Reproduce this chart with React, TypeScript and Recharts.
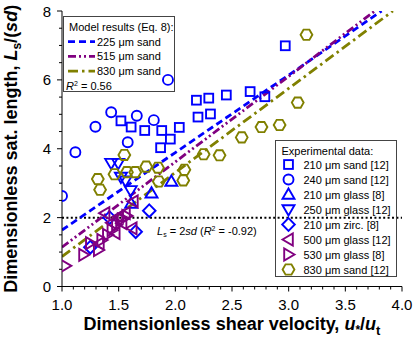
import React from "react";
import { ComposedChart, XAxis, YAxis, Scatter, Line, ReferenceLine } from "recharts";

// ---------- data ----------
const sand210 = [
  { x: 1.52, y: 4.81 }, { x: 1.61, y: 4.63 }, { x: 1.73, y: 4.53 }, { x: 1.88, y: 4.53 },
  { x: 2.035, y: 4.62 }, { x: 1.956, y: 4.28 }, { x: 1.87, y: 4.03 }, { x: 2.186, y: 5.41 },
  { x: 2.2, y: 4.92 }, { x: 2.295, y: 5.47 }, { x: 2.31, y: 5.01 }, { x: 2.45, y: 5.56 },
  { x: 2.66, y: 5.66 }, { x: 2.79, y: 5.51 }, { x: 2.97, y: 6.99 },
];
const sand240 = [
  { x: 1.0, y: 2.63 }, { x: 1.118, y: 3.9 }, { x: 1.295, y: 4.64 }, { x: 1.434, y: 5.06 },
  { x: 1.58, y: 4.19 }, { x: 1.66, y: 4.96 }, { x: 1.81, y: 4.83 }, { x: 1.935, y: 6.0 },
];
const glass210 = [
  { x: 1.61, y: 2.41 }, { x: 1.79, y: 2.71 }, { x: 1.965, y: 3.05 },
];
const glass250 = [
  { x: 1.434, y: 3.58 }, { x: 1.496, y: 3.58 }, { x: 1.52, y: 3.18 }, { x: 1.56, y: 3.07 },
  { x: 1.606, y: 2.79 },
];
const zirc210 = [
  { x: 1.77, y: 2.2 }, { x: 1.42, y: 2.0 }, { x: 1.25, y: 1.14 }, { x: 1.65, y: 1.59 },
];
const glass500 = [
  { x: 1.38, y: 2.13 }, { x: 1.5, y: 2.03 }, { x: 1.56, y: 2.13 }, { x: 1.53, y: 1.84 },
  { x: 1.62, y: 1.69 }, { x: 1.63, y: 2.47 }, { x: 1.44, y: 1.85 }, { x: 1.47, y: 1.55 },
  { x: 1.33, y: 1.25 },
];
const glass530 = [
  { x: 1.03, y: 0.6 }, { x: 1.19, y: 0.92 }, { x: 1.25, y: 1.26 }, { x: 1.32, y: 1.06 },
  { x: 1.35, y: 1.35 }, { x: 1.4, y: 1.5 }, { x: 1.44, y: 1.64 }, { x: 1.48, y: 1.79 },
  { x: 1.53, y: 1.95 }, { x: 1.57, y: 2.05 },
];
const sand830 = [
  { x: 1.55, y: 3.82 }, { x: 1.316, y: 3.12 }, { x: 1.336, y: 2.81 }, { x: 1.463, y: 3.26 },
  { x: 1.573, y: 3.32 }, { x: 1.646, y: 3.32 }, { x: 1.743, y: 3.48 }, { x: 1.847, y: 3.45 },
  { x: 1.854, y: 3.05 }, { x: 2.07, y: 3.08 }, { x: 2.08, y: 3.39 }, { x: 2.25, y: 3.84 },
  { x: 2.39, y: 3.81 }, { x: 2.586, y: 4.33 }, { x: 2.76, y: 4.63 }, { x: 2.92, y: 4.69 },
  { x: 3.08, y: 5.34 }, { x: 3.157, y: 7.31 },
];
const model225 = [{ x: 1.0, y: 1.64 }, { x: 2.0, y: 3.89 }, { x: 3.0, y: 6.14 }, { x: 3.82, y: 8.0 }];
const model515 = [{ x: 1.0, y: 1.14 }, { x: 2.0, y: 3.62 }, { x: 3.0, y: 6.1 }, { x: 3.76, y: 8.0 }];
const model830 = [{ x: 1.0, y: 0.87 }, { x: 2.0, y: 3.31 }, { x: 3.0, y: 5.75 }, { x: 3.92, y: 8.0 }];

const xMajorTicks = [1.0, 1.5, 2.0, 2.5, 3.0, 3.5, 4.0];
const yMajorTicks = [0, 2, 4, 6, 8];
const legendModel = ["225 \u03bcm sand", "515 \u03bcm sand", "830 \u03bcm sand"];
const legendExp = [
  "210 \u03bcm sand [12]", "240 \u03bcm sand [12]", "210 \u03bcm glass [8]", "250 \u03bcm glass [12]",
  "210 \u03bcm zirc. [8]", "500 \u03bcm glass [12]", "530 \u03bcm glass [8]", "830 \u03bcm sand [12]",
];

// ---------- styles ----------
const BLUE = "#0000ff";
const PURPLE = "#800080";
const OLIVE = "#808000";
const FONT = "Arial, 'Liberation Sans', sans-serif";
const DASH225 = "7 4";
const DASH515 = "8 3 2 3 2 3";
const DASH830 = "10 4 2.5 4";

const xTicks: number[] = [];
for (let i = 0; i <= 30; i++) xTicks.push(Math.round((1 + i * 0.1) * 10) / 10);
const yTicks: number[] = [];
for (let i = 0; i <= 16; i++) yTicks.push(i * 0.5);

const isIn = (arr: number[], v: number) => arr.some((a) => Math.abs(a - v) < 1e-6);

type Kind = "square" | "circle" | "up" | "down" | "diamond" | "left" | "right" | "hex";

const Marker = ({ cx, cy, kind, color }: { cx: number; cy: number; kind: Kind; color: string }) => {
  const sw = 1.9;
  const common = { fill: "none", stroke: color, strokeWidth: sw };
  switch (kind) {
    case "square":
      return <rect x={cx - 4.4} y={cy - 4.4} width={8.8} height={8.8} {...common} />;
    case "circle":
      return <circle cx={cx} cy={cy} r={5} {...common} />;
    case "up":
      return <polygon points={`${cx},${cy - 6} ${cx + 6},${cy + 4.3} ${cx - 6},${cy + 4.3}`} {...common} />;
    case "down":
      return <polygon points={`${cx},${cy + 6} ${cx + 6},${cy - 4.3} ${cx - 6},${cy - 4.3}`} {...common} />;
    case "diamond":
      return <polygon points={`${cx},${cy - 6.3} ${cx + 6.3},${cy} ${cx},${cy + 6.3} ${cx - 6.3},${cy}`} {...common} />;
    case "left":
      return <polygon points={`${cx - 6},${cy} ${cx + 4.3},${cy - 6} ${cx + 4.3},${cy + 6}`} {...common} />;
    case "right":
      return <polygon points={`${cx + 6},${cy} ${cx - 4.3},${cy - 6} ${cx - 4.3},${cy + 6}`} {...common} />;
    case "hex": {
      const r = 5.9;
      const h = r * 0.866;
      return (
        <polygon
          points={`${cx + r},${cy} ${cx + r / 2},${cy + h} ${cx - r / 2},${cy + h} ${cx - r},${cy} ${cx - r / 2},${cy - h} ${cx + r / 2},${cy - h}`}
          {...common}
        />
      );
    }
  }
  return null;
};

const shapeOf = (kind: Kind, color: string) => (p: any) =>
  <Marker cx={p.cx} cy={p.cy} kind={kind} color={color} />;

const XTickBottom = (p: any) => {
  const v = p.payload.value;
  const major = isIn(xMajorTicks, v);
  return (
    <g>
      <line x1={p.x} x2={p.x} y1={p.y} y2={p.y + (major ? 5 : 3)} stroke="#000" strokeWidth={1} />
      {major && (
        <text x={p.x} y={p.y + 23.5} textAnchor="middle" fontSize={15} fontFamily={FONT} fill="#000">
          {v.toFixed(1)}
        </text>
      )}
    </g>
  );
};
const XTickTop = (p: any) => {
  const v = p.payload.value;
  const major = isIn(xMajorTicks, v);
  return <line x1={p.x} x2={p.x} y1={p.y} y2={p.y + (major ? 5 : 3)} stroke="#000" strokeWidth={1} />;
};
const YTickLeft = (p: any) => {
  const v = p.payload.value;
  const major = isIn(yMajorTicks, v);
  return (
    <g>
      <line x1={p.x} x2={p.x - (major ? 5 : 3)} y1={p.y} y2={p.y} stroke="#000" strokeWidth={1} />
      {major && (
        <text x={p.x - 11} y={p.y + 5.5} textAnchor="end" fontSize={15} fontFamily={FONT} fill="#000">
          {v}
        </text>
      )}
    </g>
  );
};
const YTickRight = (p: any) => {
  const v = p.payload.value;
  const major = isIn(yMajorTicks, v);
  return <line x1={p.x} x2={p.x - (major ? 5 : 3)} y1={p.y} y2={p.y} stroke="#000" strokeWidth={1} />;
};

const expKinds: { kind: Kind; color: string }[] = [
  { kind: "square", color: BLUE },
  { kind: "circle", color: BLUE },
  { kind: "up", color: BLUE },
  { kind: "down", color: BLUE },
  { kind: "diamond", color: BLUE },
  { kind: "left", color: PURPLE },
  { kind: "right", color: PURPLE },
  { kind: "hex", color: OLIVE },
];
const modelStyles = [
  { color: BLUE, dash: DASH225 },
  { color: PURPLE, dash: DASH515 },
  { color: OLIVE, dash: DASH830 },
];

export default function App() {
  const axisLine = { stroke: "#000", strokeWidth: 1 };
  return (
    <div style={{ position: "absolute", left: 0, top: 0, width: 415, height: 340, background: "#fff" }}>
      <ComposedChart width={415} height={340} margin={{ top: 11, right: 13, bottom: 13.5, left: 0 }}>
        <XAxis
          type="number" dataKey="x" domain={[1, 4]} ticks={xTicks} interval={0} allowDataOverflow
          tick={XTickBottom} tickLine={false} tickSize={0} tickMargin={0} height={40} axisLine={axisLine}
        />
        <XAxis
          xAxisId="top" orientation="top" type="number" dataKey="x" domain={[1, 4]} ticks={xTicks} interval={0}
          allowDataOverflow tick={XTickTop} tickLine={false} tickSize={0} tickMargin={0} height={0} axisLine={axisLine}
        />
        <YAxis
          type="number" dataKey="y" domain={[0, 8]} ticks={yTicks} interval={0} allowDataOverflow
          tick={YTickLeft} tickLine={false} tickSize={0} tickMargin={0} width={62} axisLine={axisLine}
        />
        <YAxis
          yAxisId="right" orientation="right" type="number" dataKey="y" domain={[0, 8]} ticks={yTicks} interval={0}
          allowDataOverflow tick={YTickRight} tickLine={false} tickSize={0} tickMargin={0} width={0} axisLine={axisLine}
        />
        <ReferenceLine y={2} stroke="#000" strokeWidth={2} strokeDasharray="2 2.4" />
        <Scatter data={sand210} shape={shapeOf("square", BLUE)} isAnimationActive={false} />
        <Scatter data={sand240} shape={shapeOf("circle", BLUE)} isAnimationActive={false} />
        <Scatter data={glass210} shape={shapeOf("up", BLUE)} isAnimationActive={false} />
        <Scatter data={glass250} shape={shapeOf("down", BLUE)} isAnimationActive={false} />
        <Scatter data={zirc210} shape={shapeOf("diamond", BLUE)} isAnimationActive={false} />
        <Scatter data={glass500} shape={shapeOf("left", PURPLE)} isAnimationActive={false} />
        <Scatter data={glass530} shape={shapeOf("right", PURPLE)} isAnimationActive={false} />
        <Scatter data={sand830} shape={shapeOf("hex", OLIVE)} isAnimationActive={false} />
        <Line data={model225} dataKey="y" type="linear" stroke={BLUE} strokeWidth={2.8} strokeDasharray={DASH225} dot={false} activeDot={false} isAnimationActive={false} />
        <Line data={model515} dataKey="y" type="linear" stroke={PURPLE} strokeWidth={2.8} strokeDasharray={DASH515} dot={false} activeDot={false} isAnimationActive={false} />
        <Line data={model830} dataKey="y" type="linear" stroke={OLIVE} strokeWidth={2.8} strokeDasharray={DASH830} dot={false} activeDot={false} isAnimationActive={false} />
      </ComposedChart>
      <svg width={415} height={340} style={{ position: "absolute", left: 0, top: 0, pointerEvents: "none" }} fontFamily={FONT}>
        {/* model legend */}
        <rect x={63.5} y={16.5} width={111} height={75} fill="none" stroke="#444" strokeWidth={1} />
        <text x={69} y={31.3} fontSize={11}>Model results (Eq. 8):</text>
        {legendModel.map((t, i) => (
          <g key={t}>
            <line x1={68} x2={95} y1={41.7 + i * 14.7} y2={41.7 + i * 14.7} stroke={modelStyles[i].color} strokeWidth={2.8} strokeDasharray={modelStyles[i].dash} />
            <text x={97} y={45.7 + i * 14.7} fontSize={11}>{t}</text>
          </g>
        ))}
        <text x={66} y={90} fontSize={11}>
          <tspan fontStyle="italic">R</tspan>
          <tspan fontSize={7} dy={-4}>2</tspan>
          <tspan dy={4}> = 0.56</tspan>
        </text>
        {/* experimental legend */}
        <rect x={275.5} y={140.5} width={121} height={136} fill="none" stroke="#444" strokeWidth={1} />
        <text x={281.5} y={154.8} fontSize={11}>Experimental data:</text>
        {legendExp.map((t, i) => (
          <g key={t}>
            <Marker cx={288.5} cy={164.5 + i * 15} kind={expKinds[i].kind} color={expKinds[i].color} />
            <text x={303.5} y={168.5 + i * 15} fontSize={11}>{t}</text>
          </g>
        ))}
        {/* Ls = 2sd label */}
        <text x={157} y={235} fontSize={11}>
          <tspan fontStyle="italic">L</tspan>
          <tspan fontSize={7} dy={2}>s</tspan>
          <tspan dy={-2}> = 2</tspan>
          <tspan fontStyle="italic">sd</tspan>
          <tspan> (</tspan>
          <tspan fontStyle="italic">R</tspan>
          <tspan fontSize={7} dy={-4}>2</tspan>
          <tspan dy={4}> = -0.92)</tspan>
        </text>
        {/* axis titles */}
        <text x={232} y={330} fontSize={18} fontWeight="bold" textAnchor="middle">
          Dimensionless shear velocity,{" "}
          <tspan fontStyle="italic">u</tspan>
          <tspan fontSize={12} dy={4}>*</tspan>
          <tspan dy={-4}>/</tspan>
          <tspan fontStyle="italic">u</tspan>
          <tspan fontSize={13} dy={5}>t</tspan>
        </text>
        <text x={17} y={148.75} fontSize={18} fontWeight="bold" textAnchor="middle" transform="rotate(-90 17 148.75)">
          Dimensionless sat. length,{" "}
          <tspan fontStyle="italic">L</tspan>
          <tspan fontSize={12} dy={4}>s</tspan>
          <tspan dy={-4}>/(</tspan>
          <tspan fontStyle="italic">sd</tspan>
          <tspan>)</tspan>
        </text>
      </svg>
    </div>
  );
}
